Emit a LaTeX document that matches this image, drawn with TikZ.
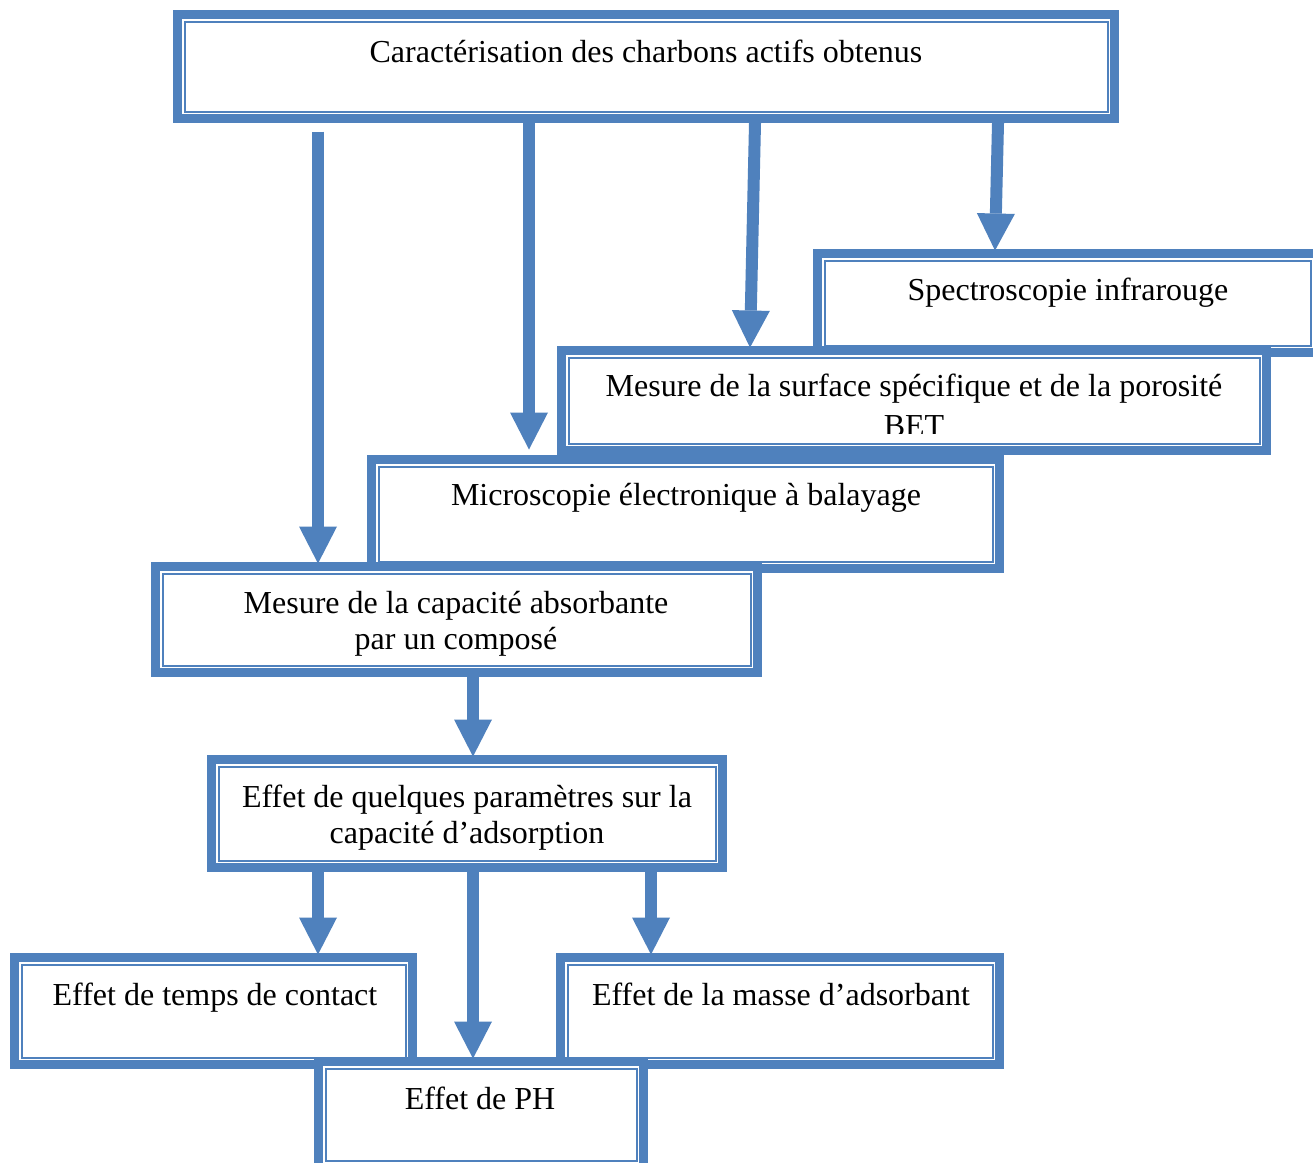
\documentclass[tikz,border=0pt]{standalone}
\usepackage{fontspec}
\setmainfont{Liberation Serif}
\usetikzlibrary{arrows.meta}
\definecolor{bl}{HTML}{4F81BD}
\tikzset{
  dblbox/.style={draw=bl, line width=9pt, fill=white, rectangle, inner sep=0pt,
    path picture={\draw[bl, line width=2pt]
      ([shift={(7pt,7pt)}]path picture bounding box.south west) rectangle
      ([shift={(-7pt,-7pt)}]path picture bounding box.north east);}},
  lbl/.style={font=\fontsize{32}{36}\selectfont, inner sep=0pt, anchor=base},
  arr/.style={draw=bl, line width=12pt, -{Triangle[length=37pt,width=38pt,line width=0pt]}}
}
\newcommand\mkbox[5]{\node[dblbox, minimum width={#4-#2-9}, minimum height={#5-#3-9}] (#1) at ({(#2+#4)/2},{(#3+#5)/2}) {};}
\begin{document}
\begin{tikzpicture}[x=1pt,y=-1pt]
\useasboundingbox (0,0) rectangle (1313,1162);
\fill[white] (0,0) rectangle (1313,1162);
\begin{scope}
\clip (0,0) rectangle (1313,1162);
% boxes
\mkbox{top}{173}{10}{1119}{123}
\mkbox{spec}{813}{249}{1322}{357}
\mkbox{bet}{557}{346}{1271}{455}
\mkbox{meb}{367}{455}{1004}{573}
\mkbox{cap}{151}{562}{762}{677}
\mkbox{eq}{207}{755}{727}{872}
\mkbox{temps}{10}{953}{417}{1069}
\mkbox{masse}{556}{953}{1004}{1069}
\mkbox{ph}{314}{1057}{648}{1172}
% texts
\node[lbl] (top-t) at (646,62) {Caractérisation des charbons actifs obtenus};
\node[lbl] (spec-t) at (1068,300) {Spectroscopie infrarouge};
\node[lbl] (bet-t1) at (914,396) {Mesure de la surface spécifique et de la porosité};
\begin{scope}
\clip (557,346) rectangle (1271,433);
\node[lbl] (bet-t2) at (914,436) {BET};
\end{scope}
\node[lbl] (meb-t) at (686,505) {Microscopie électronique à balayage};
\node[lbl] (cap-t1) at (456,613) {Mesure de la capacité absorbante};
\node[lbl] (cap-t2) at (456,649) {par un composé};
\node[lbl] (eq-t1) at (467,807) {Effet de quelques paramètres sur la};
\node[lbl] (eq-t2) at (467,843) {capacité d’adsorption};
\node[lbl] (temps-t) at (215,1005) {Effet de temps de contact};
\node[lbl] (masse-t) at (781,1005) {Effet de la masse d’adsorbant};
\node[lbl] (ph-t) at (480,1109) {Effet de PH};
% arrows
\draw[arr] ([xshift=-328pt,yshift=-8.5pt]top.south) -- ([xshift=-138.5pt,yshift=-1.5pt]cap.north);
\draw[arr] ([xshift=-117pt]top.south) -- ([xshift=-156.5pt,yshift=5.5pt]meb.north);
\draw[arr] ([xshift=109pt]top.south) -- ([xshift=-164pt,yshift=-1.5pt]bet.north);
\draw[arr] ([xshift=352pt]top.south) -- ([xshift=-72.5pt,yshift=-1.5pt]spec.north);
\draw[arr] ([xshift=16.5pt]cap.south) -- ([xshift=6pt,yshift=-1.5pt]eq.north);
\draw[arr] ([xshift=-149pt]eq.south) -- ([xshift=104.5pt,yshift=-1.5pt]temps.north);
\draw[arr] ([xshift=6pt]eq.south) -- ([xshift=-8pt,yshift=-1.5pt]ph.north);
\draw[arr] ([xshift=184pt]eq.south) -- ([xshift=-129pt,yshift=-1.5pt]masse.north);
\end{scope}
\end{tikzpicture}
\end{document}
